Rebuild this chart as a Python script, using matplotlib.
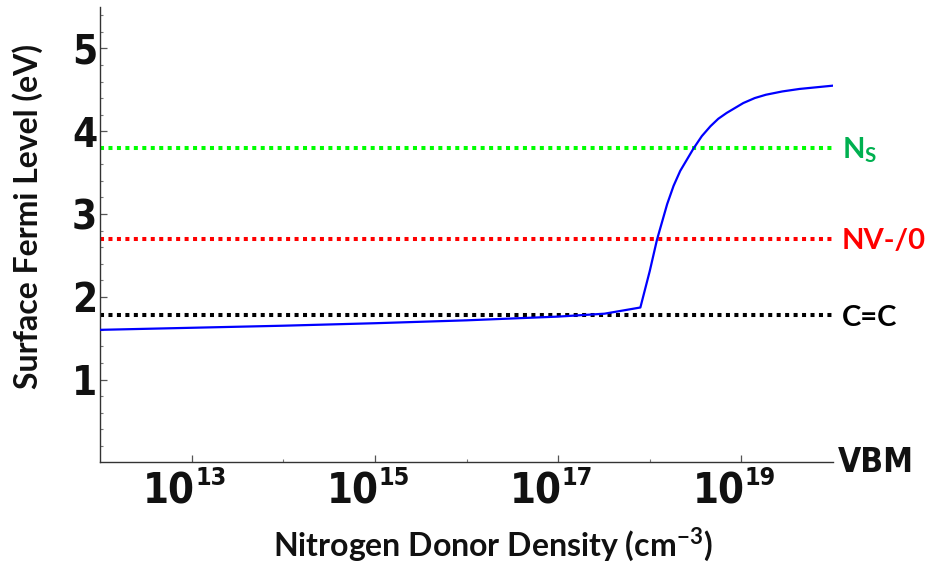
import matplotlib
matplotlib.use("Agg")
import matplotlib.pyplot as plt
from matplotlib import font_manager
from matplotlib.ticker import FixedLocator, NullFormatter

plt.rcParams['mathtext.fontset'] = 'custom'
plt.rcParams['mathtext.sf'] = 'Lato:bold'
plt.rcParams['mathtext.rm'] = 'Lato:bold'

# data
density = [1e12, 1e13, 1e14, 1e15, 1e16, 1e17, 3.2e17, 7.9e17, 1.0e18, 1.2e18,
           1.55e18, 1.82e18, 2.15e18, 3.0e18, 3.7e18, 4.6e18, 5.6e18, 6.9e18,
           1.05e19, 1.4e19, 1.85e19, 2.8e19, 4.3e19, 1e20]
fermi = [1.60, 1.625, 1.65, 1.68, 1.715, 1.76, 1.795, 1.87, 2.31, 2.69,
         3.12, 3.34, 3.52, 3.79, 3.94, 4.06, 4.15, 4.22,
         4.34, 4.40, 4.44, 4.48, 4.51, 4.55]

level_names = [r'N$_{\mathsf{S}}$', 'NV-/0', 'C=C']
level_values = [3.8, 2.7, 1.78]
line_colors = ['#00ff00', '#ff0000', '#000000']
text_colors = ['#00b050', '#ff0000', '#000000']

x_exponents = [13, 15, 17, 19]
y_ticks = [1, 2, 3, 4, 5]

# pick a narrow bold face if one is there
fonts = font_manager.fontManager.ttflist
if any(f.name == 'Liberation Sans Narrow' for f in fonts):
    NARROW = dict(family='Liberation Sans Narrow', fontweight='bold')
elif any(f.name == 'DejaVu Sans' and f.stretch == 'condensed' for f in fonts):
    NARROW = dict(family='DejaVu Sans', fontstretch='condensed', fontweight='bold')
else:
    NARROW = dict(family='Liberation Sans', fontweight='bold')
LATO = ['Lato', 'DejaVu Sans']

fig = plt.figure(figsize=(9.33, 5.65), dpi=100)
ax = fig.add_axes([100 / 933, 1 - 462.3 / 565, 733 / 933, 455.3 / 565])

for val, lc in zip(level_values, line_colors):
    ax.plot([1e12, 1e20], [val, val], color=lc, lw=2.9,
            linestyle=(0, (1, 1.1)), dash_capstyle='butt', zorder=2)

ax.plot(density, fermi, color='#0000ff', lw=1.6, zorder=3)

ax.set_xscale('log')
ax.set_xlim(1e12, 1e20)
ax.set_ylim(0, 5.5)

for side in ['top', 'right']:
    ax.spines[side].set_visible(False)
for side in ['left', 'bottom']:
    ax.spines[side].set_color('#333333')
    ax.spines[side].set_linewidth(1.0)

ax.xaxis.set_major_locator(FixedLocator([10.0 ** e for e in x_exponents]))
ax.xaxis.set_minor_locator(FixedLocator([1e14, 1e16, 1e18]))
ax.xaxis.set_major_formatter(NullFormatter())
ax.xaxis.set_minor_formatter(NullFormatter())
ax.yaxis.set_major_locator(FixedLocator(y_ticks))
ax.yaxis.set_minor_locator(FixedLocator([i * 0.2 for i in range(1, 28)]))
ax.set_yticklabels([str(t) for t in y_ticks])

ax.tick_params(which='major', direction='in', length=5, width=0.9, color='#555555')
ax.tick_params(which='minor', direction='in', length=2.5, width=0.8, color='#777777')
ax.tick_params(axis='y', pad=2)
for lab in ax.get_yticklabels():
    lab.update(NARROW)
    lab.set_fontsize(29)
    lab.set_color('#111111')

# x tick labels: 10 with superscript exponent
for e in x_exponents:
    ax.annotate('10', xy=(10.0 ** e, 0), xycoords=('data', 'axes fraction'),
                xytext=(2.5, -29.5), textcoords='offset points', ha='right',
                va='baseline', fontsize=30, color='#111111',
                annotation_clip=False, **NARROW)
    ax.annotate(str(e), xy=(10.0 ** e, 0), xycoords=('data', 'axes fraction'),
                xytext=(2.5, -16), textcoords='offset points', ha='left',
                va='baseline', fontsize=18, color='#111111',
                annotation_clip=False, **NARROW)

# labels at right end of level lines
for name, val, tc in zip(level_names, level_values, text_colors):
    ax.annotate(name, xy=(1e20, val), xytext=(6.5, -7.6), textcoords='offset points',
                ha='left', va='baseline', family=LATO, fontweight='bold',
                fontsize=21, color=tc, annotation_clip=False)

ax.annotate('VBM', xy=(1e20, 0), xytext=(3.5, -7.2), textcoords='offset points',
            ha='left', va='baseline', fontsize=24, color='#111111',
            annotation_clip=False, **NARROW)

ax.set_ylabel('Surface Fermi Level (eV)', family=LATO, fontweight='bold',
              fontsize=23, color='#111111')
ax.yaxis.set_label_coords(-0.078, 0.54)
ax.set_xlabel(r'Nitrogen Donor Density (cm$^{\mathsf{-3}}$)', family=LATO,
              fontweight='bold', fontsize=23, color='#111111')
ax.xaxis.set_label_coords(0.536, -0.14)

fig.savefig('out.png', dpi=100)
